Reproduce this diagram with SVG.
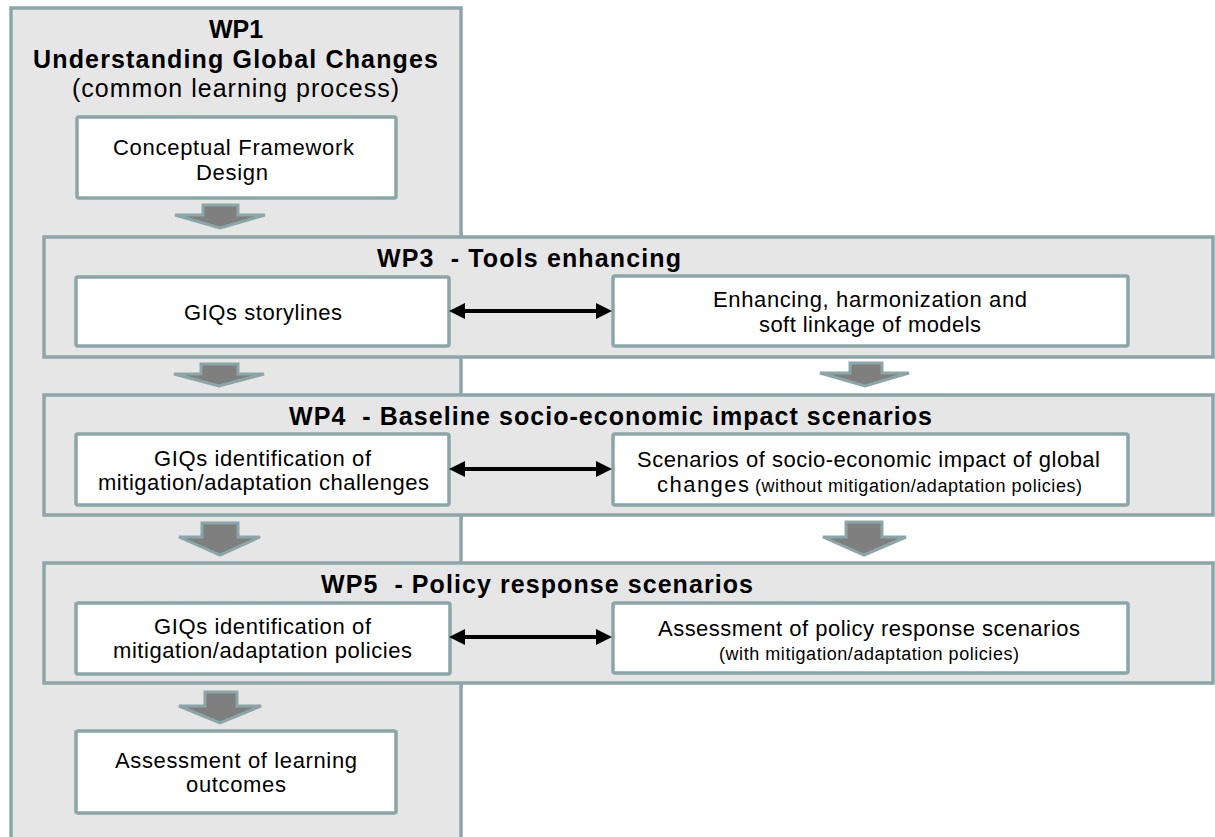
<svg xmlns="http://www.w3.org/2000/svg" width="1215" height="837" viewBox="0 0 1215 837">
<style>
.panel{fill:#e6e6e6;stroke:#8ba6a9;stroke-width:3.5}
.box{fill:#ffffff;stroke:#8ba6a9;stroke-width:3.5}
.h{font-family:"Liberation Sans",Arial,sans-serif;font-weight:bold;font-size:25px;fill:#000;white-space:pre}
.t{font-family:"Liberation Sans",Arial,sans-serif;font-size:22px;fill:#000;white-space:pre}
.s{font-size:18px}
.blk{fill:#7f7f7f;stroke:#8ba6a9;stroke-width:3;stroke-linejoin:miter}
.dbl{stroke:#000;stroke-width:4;fill:none;marker-start:url(#ah);marker-end:url(#ah)}
</style>
<defs>
<marker id="ah" markerUnits="userSpaceOnUse" markerWidth="16" markerHeight="16" viewBox="0 0 16 16" refX="8" refY="8" orient="auto-start-reverse">
<path d="M0,0 L16,8 L0,16 Z" fill="#000"/>
</marker>
</defs>
<rect width="1215" height="837" fill="#ffffff"/>
<g id="wp1">
<rect class="panel" x="11" y="8" width="450" height="860"/>
<text class="h" x="236" y="38" text-anchor="middle">WP1</text>
<text class="h" x="33" y="68" textLength="405" lengthAdjust="spacing">Understanding Global Changes</text>
<text class="t" style="font-size:25px" x="72" y="97" textLength="327" lengthAdjust="spacing">(common learning process)</text>
</g>
<g id="wp3">
<rect class="panel" x="44" y="237" width="1169" height="120"/>
<text class="h" x="377" y="267" textLength="304" lengthAdjust="spacing">WP3  - Tools enhancing</text>
</g>
<g id="wp4">
<rect class="panel" x="44" y="395" width="1169" height="120"/>
<text class="h" x="289" y="425" textLength="643" lengthAdjust="spacing">WP4  - Baseline socio-economic impact scenarios</text>
</g>
<g id="wp5">
<rect class="panel" x="44" y="563" width="1169" height="120"/>
<text class="h" x="321" y="593" textLength="432" lengthAdjust="spacing">WP5  - Policy response scenarios</text>
</g>
<g id="conceptual">
<rect class="box" x="77" y="117" width="319" height="81" rx="2"/>
<text class="t" x="113" y="155" textLength="241" lengthAdjust="spacing">Conceptual Framework</text>
<text class="t" x="196" y="180" textLength="72" lengthAdjust="spacing">Design</text>
</g>
<g id="storylines">
<rect class="box" x="76" y="277" width="373" height="69" rx="2"/>
<text class="t" x="184" y="320" textLength="158" lengthAdjust="spacing">GIQs storylines</text>
</g>
<g id="enhancing">
<rect class="box" x="613" y="276" width="515" height="70" rx="2"/>
<text class="t" x="713" y="307" textLength="314" lengthAdjust="spacing">Enhancing, harmonization and</text>
<text class="t" x="759" y="332" textLength="222" lengthAdjust="spacing">soft linkage of models</text>
</g>
<g id="challenges">
<rect class="box" x="76" y="434" width="373" height="71" rx="2"/>
<text class="t" x="154" y="466" textLength="217" lengthAdjust="spacing">GIQs identification of</text>
<text class="t" x="98" y="490" textLength="331" lengthAdjust="spacing">mitigation/adaptation challenges</text>
</g>
<g id="baseline-scenarios">
<rect class="box" x="613" y="434" width="515" height="71" rx="2"/>
<text class="t" x="637" y="467" textLength="463" lengthAdjust="spacing">Scenarios of socio-economic impact of global</text>
<text class="t" x="657" y="492" textLength="92" lengthAdjust="spacing">changes</text>
<text class="t s" x="755" y="492" textLength="327" lengthAdjust="spacing">(without mitigation/adaptation policies)</text>
</g>
<g id="policies">
<rect class="box" x="76" y="603" width="374" height="71" rx="2"/>
<text class="t" x="154" y="634" textLength="217" lengthAdjust="spacing">GIQs identification of</text>
<text class="t" x="113" y="658" textLength="299" lengthAdjust="spacing">mitigation/adaptation policies</text>
</g>
<g id="policy-scenarios">
<rect class="box" x="613" y="603" width="515" height="70" rx="2"/>
<text class="t" x="658" y="636" textLength="422" lengthAdjust="spacing">Assessment of policy response scenarios</text>
<text class="t s" x="719" y="660" textLength="300" lengthAdjust="spacing">(with mitigation/adaptation policies)</text>
</g>
<g id="learning">
<rect class="box" x="76" y="731" width="320" height="82" rx="2"/>
<text class="t" x="115" y="768" textLength="242" lengthAdjust="spacing">Assessment of learning</text>
<text class="t" x="186" y="792" textLength="100" lengthAdjust="spacing">outcomes</text>
</g>
<g id="connectors">
<path class="blk" d="M203,205 H238 V215 H265 L220,228 L175,215 H203 Z"/>
<path class="blk" d="M201,364 H238 V374 H264 L219,386 L174,374 H201 Z"/>
<path class="blk" d="M202,523 H238 V537 H260 L220,555 L179,537 H202 Z"/>
<path class="blk" d="M205,692 H237 V706 H261 L220,723 L179,706 H205 Z"/>
<path class="blk" d="M850,363 H882 V373 H909 L865,386 L820,373 H850 Z"/>
<path class="blk" d="M846,522 H882 V537 H906 L864,555 L823,537 H846 Z"/>
<line class="dbl" x1="457" y1="311" x2="604" y2="311"/>
<line class="dbl" x1="457" y1="469" x2="604" y2="469"/>
<line class="dbl" x1="457" y1="637" x2="604" y2="637"/>
</g>
</svg>
